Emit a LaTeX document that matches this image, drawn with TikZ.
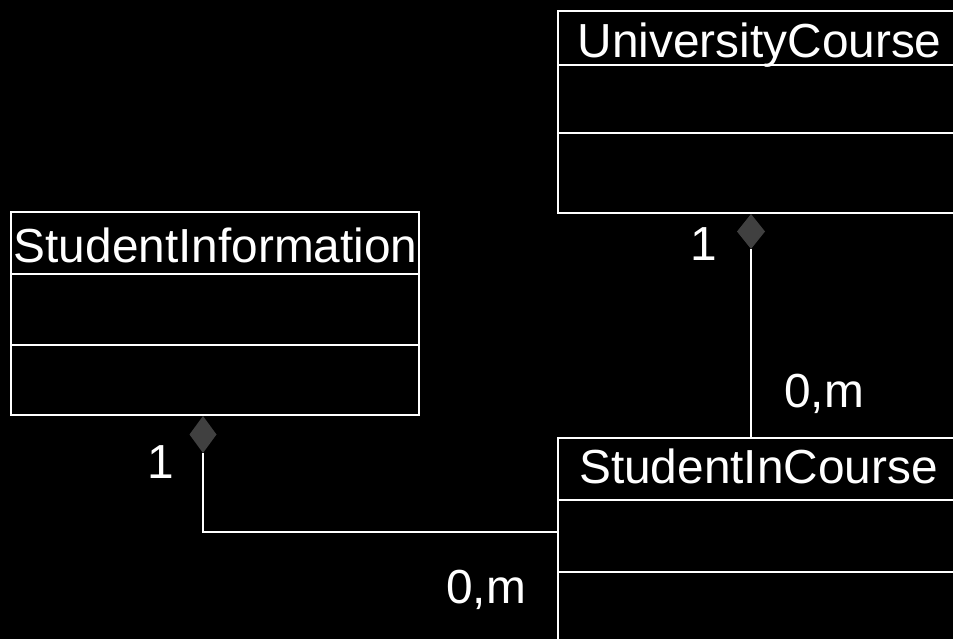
\documentclass[tikz,border=0pt]{standalone}
\usepackage{fontspec}
\setmainfont{Liberation Sans}
\usetikzlibrary{shapes.geometric}
\definecolor{agg}{HTML}{404040}
\tikzset{
  classbox/.style={draw=white, line width=2pt, fill=black, rectangle, inner sep=0pt, anchor=north west},
  divider/.style={draw=white, line width=2pt},
  titletext/.style={text=white, inner sep=0pt, anchor=base west, font=\fontsize{47.8}{56}\selectfont},
  multiplicity/.style={text=white, inner sep=0pt, anchor=base west, font=\fontsize{47.8}{56}\selectfont},
  aggdiamond/.style={diamond, fill=agg, draw=none, inner sep=0pt, outer sep=0pt, anchor=north},
  link/.style={draw=white, line width=2pt}
}
\begin{document}
\begin{tikzpicture}[x=1pt,y=-1pt]
  \fill[black] (0,0) rectangle (953,639);
  \useasboundingbox (0,0) rectangle (953,639);
  \clip (0,0) rectangle (953,639);

  % UniversityCourse
  \node[classbox, minimum width=410pt, minimum height=202pt] (uc) at (557,10) {};
  \draw[divider] (uc.north west |- 0,65) -- (uc.north east |- 0,65);
  \draw[divider] (uc.north west |- 0,133) -- (uc.north east |- 0,133);
  \node[titletext] (ucT) at (577.5,58) {UniversityCourse};

  % StudentInformation
  \node[classbox, minimum width=408pt, minimum height=203pt] (si) at (10,211) {};
  \draw[divider] (si.north west |- 0,274) -- (si.north east |- 0,274);
  \draw[divider] (si.north west |- 0,345) -- (si.north east |- 0,345);
  \node[titletext] (siT) at (13.5,262) {StudentInformation};

  % StudentInCourse
  \node[classbox, minimum width=410pt, minimum height=230pt] (sic) at (557,437) {};
  \draw[divider] (sic.north west |- 0,500) -- (sic.north east |- 0,500);
  \draw[divider] (sic.north west |- 0,572) -- (sic.north east |- 0,572);
  \node[titletext] (sicT) at (579,483) {StudentInCourse};

  % aggregation diamonds
  \node[aggdiamond, minimum width=28pt, minimum height=35pt] (ucd) at (uc.south -| 751,0) {};
  \node[aggdiamond, minimum width=27pt, minimum height=37pt] (sid) at (si.south -| 203,0) {};

  % associations
  \draw[link] (ucd.south) -- (ucd.south |- sic.north);
  \coordinate (sicin) at (sic.north west |- 0,532);
  \draw[link] (sid.south) |- (sicin);

  % multiplicities
  \node[multiplicity] (m1) at (690,260) {1};
  \node[multiplicity] (m2) at (784,407) {0,m};
  \node[multiplicity] (m3) at (147,478) {1};
  \node[multiplicity] (m4) at (446,603) {0,m};
\end{tikzpicture}
\end{document}
